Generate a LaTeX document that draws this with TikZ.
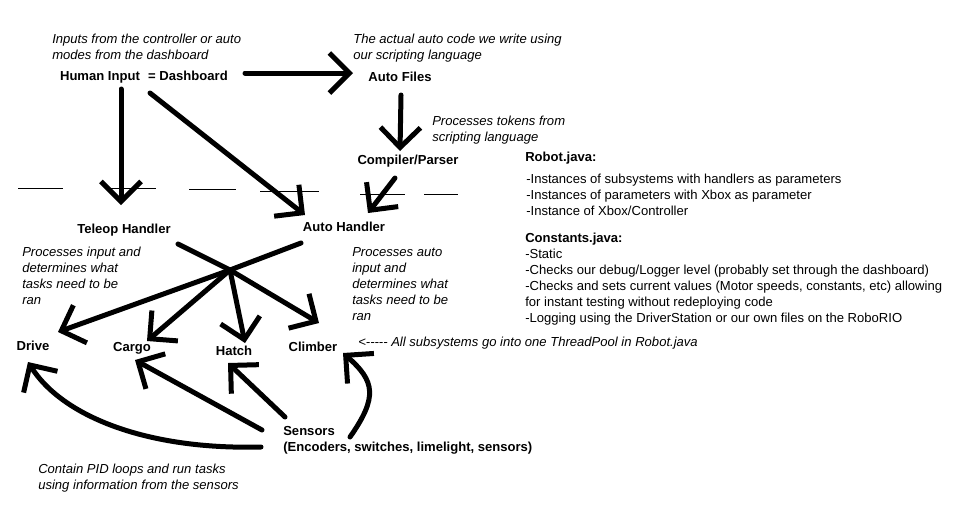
\documentclass[tikz,border=0pt]{standalone}
\usepackage{fontspec}
\setmainfont{Liberation Sans}
\usetikzlibrary{calc, arrows.meta}

\begin{document}
\begin{tikzpicture}
    [
        x=0.75pt, y=-0.75pt,
        lbl/.style={font=\fontsize{9.8}{12}\selectfont\bfseries, inner sep=0pt, text height=7pt, text depth=2pt},
        note/.style={font=\fontsize{9.8}{12}\selectfont\itshape, inner sep=0pt, anchor=north west, align=left},
        info/.style={font=\fontsize{9.8}{12}\selectfont, inner sep=0pt, anchor=north west, align=left}
    ]
    \tikzstyle{line} = [draw, line width=3.75pt, line cap=round, line join=round, -{Straight Barb[length=15pt, width=30pt]}]
    \tikzstyle{stroke} = [draw, line width=3.75pt, line cap=round]
    \tikzstyle{cut} = [draw, line width=0.75pt]

    \useasboundingbox (0,0) rectangle (959,512);

    % Inputs
    \node[lbl] (hinput) at (100,77) {Human Input};
    \node[lbl] (dashb) at (188,77) {= Dashboard};
    \node[lbl] (autof) at (400,78) {Auto Files};
    \node[lbl] (compiler) at (408,161) {Compiler/Parser};
    \node[note] (hinput_note) at (52,34) {Inputs from the controller or auto\\modes from the dashboard};
    \node[note] (autof_note) at (353,34) {The actual auto code we write using\\our scripting language};
    \node[note] (compiler_note) at (432,116) {Processes tokens from\\scripting language};

    % Handlers
    \node[lbl] (teleop) at (124,230) {Teleop Handler};
    \node[lbl] (autoh) at (344,228) {Auto Handler};
    \node[note] (teleop_note) at (22,247) {Processes input and\\determines what\\tasks need to be\\ran};
    \node[note] (autoh_note) at (352,247) {Processes auto\\input and\\determines what\\tasks need to be\\ran};
    \coordinate (hub) at (230,270);

    % Subsystems
    \node[lbl] (drive) at (33,347) {Drive};
    \node[lbl] (cargo) at (132,348) {Cargo};
    \node[lbl] (hatch) at (234,352) {Hatch};
    \node[lbl] (climber) at (313,348) {Climber};
    \node[note] (pool_note) at (358,337) {<{-}{-}{-}{-}- All subsystems go into one ThreadPool in Robot.java};
    \node[info, font=\fontsize{9.8}{12}\selectfont\bfseries] (sensors) at (283,426) {Sensors\\(Encoders, switches, limelight, sensors)};
    \node[note] (sub_note) at (38,464) {Contain PID loops and run tasks\\using information from the sensors};

    % Java files
    \node[info, font=\fontsize{9.8}{12}\selectfont\bfseries] (robot) at (525,152) {Robot.java:};
    \node[info] (robot_list) at (526,174) {-Instances of subsystems with handlers as parameters\\-Instances of parameters with Xbox as parameter\\-Instance of Xbox/Controller};
    \node[info] (constants) at (525,233) {\textbf{Constants.java:}\\-Static\\-Checks our debug/Logger level (probably set through the dashboard)\\-Checks and sets current values (Motor speeds, constants, etc) allowing\\for instant testing without redeploying code\\-Logging using the DriverStation or our own files on the RoboRIO};

    % Cut between input side and handlers
    \foreach \xa/\xb/\ya in {18/63/188, 107/156/188, 189/236/189, 260/319/191, 360/405/194, 424/458/194}
        \draw[cut] (\xa,\ya) -- (\xb,\ya);

    % Arrows from the inputs
    \draw[line] ($(dashb)+(57,-4)$) -- ($(autof)+(-47,-5)$);
    \draw[line] ($(hinput)+(21,12)$) -- ($(teleop)+(-3,-25)$);
    \draw[line] ($(dashb)+(-38,16)$) -- ($(autoh)+(-39,-13)$);
    \draw[line] ($(autof)+(1,17)$) -- ($(compiler)+(-8,-10)$);
    \draw[line] ($(compiler)+(-13,17)$) -- ($(autoh)+(24,-15)$);

    % Handlers to subsystems
    \draw[stroke] ($(teleop)+(54,14)$) -- (hub);
    \draw[stroke] ($(autoh)+(-43,15)$) -- (hub);
    \draw[line] (hub) -- ($(drive)+(25,-15)$);
    \draw[line] (hub) -- ($(cargo)+(15,-7)$);
    \draw[line] (hub) -- ($(hatch)+(11,-9)$);
    \draw[line] (hub) -- ($(climber)+(6,-25)$);

    % Sensors to subsystems
    \draw[line] ($(sensors.north west)+(-22,21)$) .. controls +(-115,3) and +(34,54) .. ($(drive)+(-5,15)$);
    \draw[line] ($(sensors.north west)+(-21,4)$) -- ($(cargo)+(3,12)$);
    \draw[line] ($(sensors.north west)+(2,-9)$) -- ($(hatch)+(-6,11)$);
    \draw[line] ($(sensors.north west)+(67,11)$) .. controls +(28,-40) and +(32,28) .. ($(climber)+(30,5)$);
\end{tikzpicture}
\end{document}
